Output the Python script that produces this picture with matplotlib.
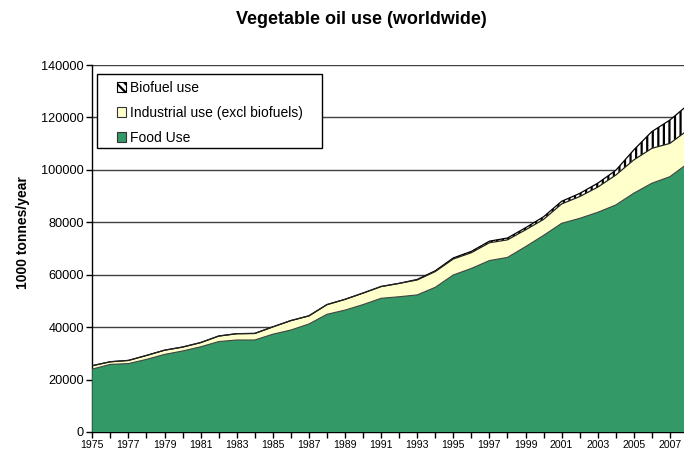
import numpy as np
import matplotlib
matplotlib.use("Agg")
import matplotlib.pyplot as plt
from matplotlib.patches import Patch, Rectangle

plt.rcParams['font.family'] = ['Liberation Sans', 'DejaVu Sans']
plt.rcParams['hatch.linewidth'] = 1.6

# data (1000 tonnes/year)
years = list(range(1975, 2009))
food = [24.0, 25.8, 26.1, 27.7, 29.6, 30.9, 32.5, 34.5, 35.1, 35.1,
        37.3, 38.9, 41.2, 44.9, 46.5, 48.6, 51.0, 51.6, 52.3, 55.2,
        59.9, 62.4, 65.4, 66.6, 70.7, 75.0, 79.6, 81.5, 83.8, 86.6,
        91.1, 94.9, 97.4, 102.5]
industrial = [1.3, 1.0, 1.2, 1.5, 1.6, 1.5, 1.6, 2.1, 2.4, 2.5,
              2.8, 3.6, 3.1, 3.7, 4.1, 4.4, 4.5, 5.1, 5.7, 6.0,
              6.1, 6.0, 6.8, 6.7, 6.4, 6.1, 7.4, 8.3, 9.6, 11.4,
              12.7, 13.3, 12.7, 12.7]
biofuel = [0, 0, 0, 0, 0, 0, 0, 0, 0, 0,
           0, 0, 0, 0, 0, 0, 0, 0, 0.2, 0.3,
           0.4, 0.5, 0.6, 0.7, 0.8, 1.0, 1.0, 1.2, 1.5, 1.8,
           3.8, 6.4, 8.9, 9.6]

x = np.array(years)
f = np.array(food) * 1000
ind = f + np.array(industrial) * 1000
tot = ind + np.array(biofuel) * 1000

green = '#339966'
yellow = '#ffffcc'

W, H = 684, 458
fig = plt.figure(figsize=(6.84, 4.58), dpi=100)
ax = fig.add_axes([92.3 / W, 26 / H, 1 - 92.3 / W, 367 / H])

# gridlines behind areas
for g in range(20000, 140001, 20000):
    ax.axhline(g, color='#404040', lw=1.0, zorder=0)

ax.fill_between(x, ind, tot, facecolor='white', edgecolor='black',
                hatch='|||', lw=0, zorder=1)
ax.fill_between(x, f, ind, facecolor=yellow, lw=0, zorder=2)
ax.fill_between(x, 0, f, facecolor=green, lw=0, zorder=3)
ax.plot(x, tot, color='black', lw=0.9, zorder=4)
ax.plot(x, ind, color='#222222', lw=0.9, zorder=4)
ax.plot(x, f, color='#444444', lw=0.8, zorder=4)

ax.set_xlim(1975, 1975 + (W - 92.3) / 18.05)
ax.set_ylim(0, 140000)

ax.set_yticks(range(0, 140001, 20000))
ax.set_yticklabels([str(v) for v in range(0, 140001, 20000)], fontsize=9.2)
ax.set_xticks(years[:-1])
ax.set_xticklabels([str(y) if (y - 1975) % 2 == 0 else '' for y in years[:-1]],
                   fontsize=7.6)
ax.tick_params(axis='both', direction='out', length=4, width=1, color='black',
               pad=2)

for s in ['top', 'right']:
    ax.spines[s].set_visible(False)
ax.spines['left'].set_linewidth(1.0)
ax.spines['bottom'].set_linewidth(1.0)
ax.set_zorder(1)

fig.text(361 / W, 1 - 20 / H, 'Vegetable oil use (worldwide)',
         ha='center', va='center', fontsize=13, fontweight='bold')
fig.text(23 / W, 1 - 233 / H, '1000 tonnes/year', ha='center',
         va='center', rotation='vertical', fontsize=10, fontweight='bold')

# legend box drawn by hand (wider padding than matplotlib's)
box = Rectangle((97 / W, 1 - 147.7 / H), 225 / W, 74.2 / H,
                transform=fig.transFigure, facecolor='white',
                edgecolor='black', lw=1.0, zorder=9)
fig.add_artist(box)

handles = [
    Patch(facecolor='white', edgecolor='black', hatch='\\\\\\\\', lw=0.8),
    Patch(facecolor=yellow, edgecolor='#333333', lw=0.8),
    Patch(facecolor=green, edgecolor='#333333', lw=0.8),
]
leg = fig.legend(handles, ['Biofuel use', 'Industrial use (excl biofuels)', 'Food Use'],
                 loc='upper left', bbox_to_anchor=(114 / W, 1 - 78 / H),
                 fontsize=10, frameon=False, borderpad=0.2,
                 handlelength=0.65, handleheight=0.65, handletextpad=0.3,
                 labelspacing=0.8, borderaxespad=0)
leg.set_zorder(10)

fig.savefig('out.png', dpi=100)
